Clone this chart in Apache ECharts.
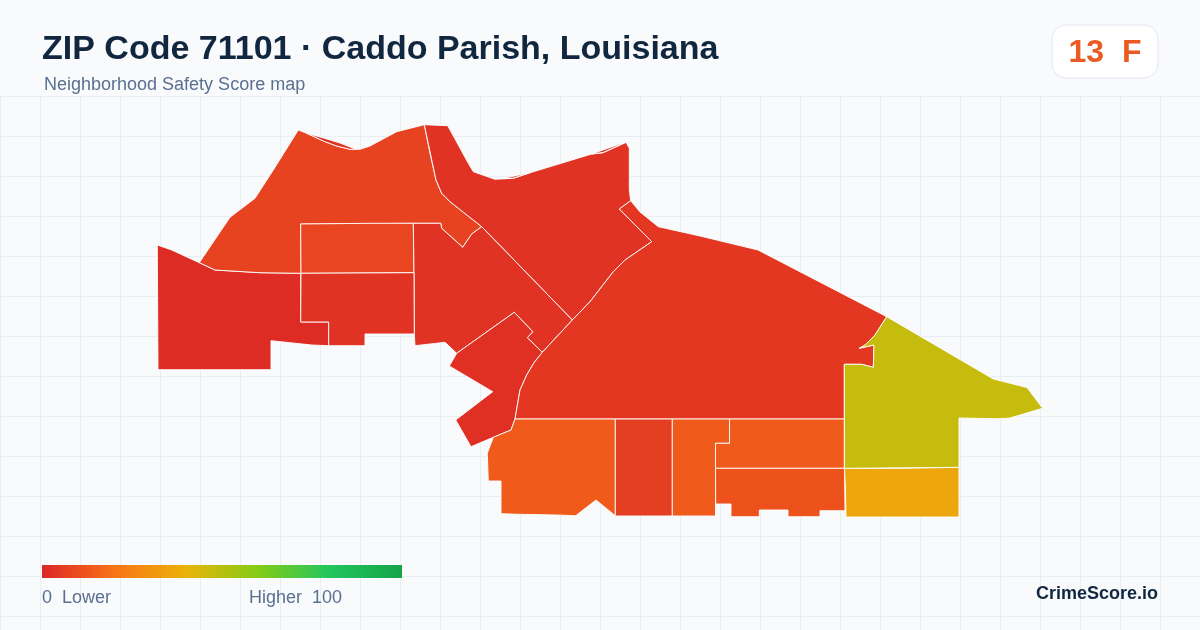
<!DOCTYPE html>
<html><head><meta charset="utf-8">
<style>html,body{margin:0;padding:0;background:#f8fafc}#c{width:1200px;height:630px}</style>
<script src="https://cdn.jsdelivr.net/npm/echarts@6/dist/echarts.min.js"></script>
</head><body><div id="c"></div>
<script>
const titleText = 'ZIP Code 71101 · Caddo Parish, Louisiana';
const subtitleText = 'Neighborhood Safety Score map';
const gradeText = '13  F';
const brandText = 'CrimeScore.io';
const legendLow = '0  Lower';
const legendHigh = 'Higher  100';

const areaNames = ['West','North Fan','Fan Block','Riverfront','Central West','South Notch','West Block','Downtown','South A','South B','South C','South D','South E','East Lower','East'];
const areaScores = [1.5,7.5,8,3.5,3.5,2.5,3.5,4.5,13.5,6.5,13.5,13.5,11.5,36,47];
const scaleColors = ['#dc2626','#f97316','#eab308','#84cc16','#22c55e','#16a34a'];

// Map outlines, in map units (east, south)
const outlineWest = [[157.3,245],[171.7,250],[199.3,262.7],[215,270],[260,272.7],[300.7,273.3],[300.7,322],[328.7,322],[328.7,345.7],[311.7,345],[271,340.7],[271,369.7],[158,369.7]];
const outlineFan = [[199.3,262.7],[230,217.3],[255,198.3],[273.3,170],[298.3,130],[306.7,133.3],[325,141.7],[336.7,146],[350,149.3],[360,149.3],[370,146],[396.7,131.7],[424.3,124.7],[430,153.3],[436,180],[441.7,193.3],[450,201.7],[481.7,226.7],[471.7,234],[462.7,247.3],[441.7,228.3],[440.7,223.3],[413.3,223.3],[300.7,224],[301,273.3],[260,272.7],[215,270]];
const outlineFanBlock = [[300.7,224],[371,223.3],[413.3,223.3],[414,272.7],[301,273.3]];
const outlineRiver = [[424.3,124.7],[447.7,125.7],[458.3,145],[468.3,163.3],[473.3,171.7],[495,179.3],[513.3,178.3],[528.3,173.3],[591.7,154],[603,152.7],[626,142.3],[629.3,148.3],[629.3,190],[630.7,200.7],[619.3,209],[651.7,241.7],[625,260],[613.3,271.7],[590,301.7],[572.3,320],[481.7,226.7],[450,201.7],[441.7,193.3],[436,180]];
const sliverRiverA = [[306.7,133.3],[322,137.5],[340,143],[356,149.3],[350,149.3],[336.7,146],[325,141.7]];
const sliverRiverB = [[503,178.6],[530,172.5],[528.3,173.3],[513.3,178.3]];
const sliverRiverC = [[591.7,154],[620,144],[626,142.3],[603,152.7]];
const outlineCentralWest = [[413.3,223.3],[440.7,223.3],[441.7,228.3],[462.7,247.3],[471.7,234],[481.7,226.7],[572.3,320],[542.3,352.3],[527.3,337.7],[532.7,331.7],[514.3,312.3],[456.7,353.3],[445,342.3],[415,345.7],[414.3,334],[414,272.7]];
const outlineNotch = [[456.7,353.3],[514.3,312.3],[532.7,331.7],[527.3,337.7],[542.3,352.3],[534,362.7],[526.7,375],[520,390],[515,419],[511,430],[493.3,437.3],[471,446.7],[455.7,420],[492.7,391.7],[449.3,366]];
const outlineWestBlock = [[301,273.3],[414,272.7],[414.3,334],[365,334],[365,345.7],[328.7,345.7],[328.7,322],[300.7,322]];
const outlineDowntown = [[630.7,200.7],[640,212],[658.3,226.7],[700,236],[758,250],[886.7,316.7],[875,335],[865,345],[859.3,348.3],[874,345],[873.3,367.3],[861.7,364.3],[844.3,364.3],[844.3,419],[515,419],[520,390],[526.7,375],[534,362.7],[542.3,352.3],[572.3,320],[590,301.7],[613.3,271.7],[625,260],[651.7,241.7],[619.3,209]];
const outlineSouthA = [[515,419],[615.3,419],[615.3,515.7],[596,500],[575.7,515.7],[556.7,515],[519.3,514.3],[501,513.7],[501,481],[488.3,481],[487.3,453.3],[493.3,437.3],[511,430]];
const outlineSouthB = [[615.3,419],[672.3,419],[672.3,516],[615.3,516]];
const outlineSouthC = [[672.3,419],[729.5,419],[729.5,443.3],[715.5,443.3],[715.5,516],[672.3,516]];
const outlineSouthD = [[729.5,419],[844.3,419],[844.3,468.3],[715.5,468.3],[715.5,443.3],[729.5,443.3]];
const outlineSouthE = [[715.5,468.3],[844.5,468.3],[845,510.7],[820,510.7],[820,516.7],[788,516.7],[788,510],[759.3,510],[759.3,516.7],[745,516.7],[731,516.7],[731,504],[715.7,504]];
const outlineEastLower = [[844.5,468.3],[901,468.3],[959,467.3],[959,517],[846,517],[845.5,490]];
const outlineEast = [[886.7,316.7],[993.3,379],[1027,387.5],[1042.7,408.3],[1010,418],[998,418.7],[959,418],[959,467.3],[844.5,468.3],[844.3,364.3],[861.7,364.3],[873.3,367.3],[874,345],[859.3,348.3],[865,345],[875,335]];

const areaShapes = [[outlineWest],[outlineFan],[outlineFanBlock],[outlineRiver,sliverRiverA,sliverRiverB,sliverRiverC],[outlineCentralWest],[outlineNotch],[outlineWestBlock],[outlineDowntown],[outlineSouthA],[outlineSouthB],[outlineSouthC],[outlineSouthD],[outlineSouthE],[outlineEastLower],[outlineEast]];

const toRing = ring => { const r = ring.map(p => [p[0], 630 - p[1]]); r.push(r[0]); return r; };
const geoJson = {
  type: 'FeatureCollection',
  features: areaNames.map((name, i) => ({
    type: 'Feature',
    properties: { name },
    geometry: { type: 'MultiPolygon', coordinates: areaShapes[i].map(o => [toRing(o)]) }
  }))
};
echarts.registerMap('zip71101', geoJson);

const chart = echarts.init(document.getElementById('c'), null, { renderer: 'canvas' });
const FONT = '"Liberation Sans", Arial, sans-serif';
chart.setOption({
  animation: false,
  backgroundColor: '#f8fafc',
  grid: { left: 0, right: 0, top: 96, bottom: 0 },
  xAxis: { type: 'value', min: 0, max: 1200, interval: 40, axisLine: {show:false}, axisTick: {show:false}, axisLabel: {show:false},
    splitLine: { show: true, lineStyle: { color: '#e8eff4', width: 1 } } },
  yAxis: { type: 'value', inverse: true, min: 0, max: 534, interval: 40, axisLine: {show:false}, axisTick: {show:false}, axisLabel: {show:false},
    splitLine: { show: true, lineStyle: { color: '#e8eff4', width: 1 } } },
  visualMap: {
    type: 'continuous', min: 0, max: 100, show: false, inRange: { color: scaleColors }, seriesIndex: 0
  },
  series: [{
    type: 'map', map: 'zip71101', aspectScale: 1, roam: false, silent: true,
    left: 157.3, top: 124.7, width: 885.4, height: 392.3,
    label: { show: false },
    itemStyle: { borderColor: '#ffffff', borderWidth: 0.9 },
    emphasis: { disabled: true }, select: { disabled: true },
    data: areaNames.map((name, i) => ({ name, value: areaScores[i] }))
  }],
  graphic: [
    { type: 'text', left: 42, top: 33, z: 10, style: { text: titleText, font: 'bold 34px ' + FONT, fill: '#11263f' } },
    { type: 'text', left: 44, top: 76, z: 10, style: { text: subtitleText, font: '18px ' + FONT, fill: '#5a7090' } },
    { type: 'rect', z: 10, shape: { x: 1052, y: 25, width: 106, height: 53, r: 14 }, style: { fill: '#ffffff', stroke: '#e2e8f0', lineWidth: 1 } },
    { type: 'text', z: 11, x: 1105, y: 53, style: { text: gradeText, font: 'bold 32px ' + FONT, fill: '#ea5a22', align: 'center', verticalAlign: 'middle' } },
    { type: 'rect', z: 10, shape: { x: 42, y: 565, width: 360, height: 13 }, style: {
        fill: new echarts.graphic.LinearGradient(0, 0, 1, 0, scaleColors.map((color, i) => ({ offset: i / (scaleColors.length - 1), color }))) } },
    { type: 'text', z: 10, left: 42, top: 589, style: { text: legendLow, font: '18px ' + FONT, fill: '#5a7090' } },
    { type: 'text', z: 10, right: 858, top: 589, style: { text: legendHigh, font: '18px ' + FONT, fill: '#5a7090' } },
    { type: 'text', z: 10, right: 42, top: 585, style: { text: brandText, font: 'bold 18px ' + FONT, fill: '#11263f' } }
  ]
});
</script></body></html>
